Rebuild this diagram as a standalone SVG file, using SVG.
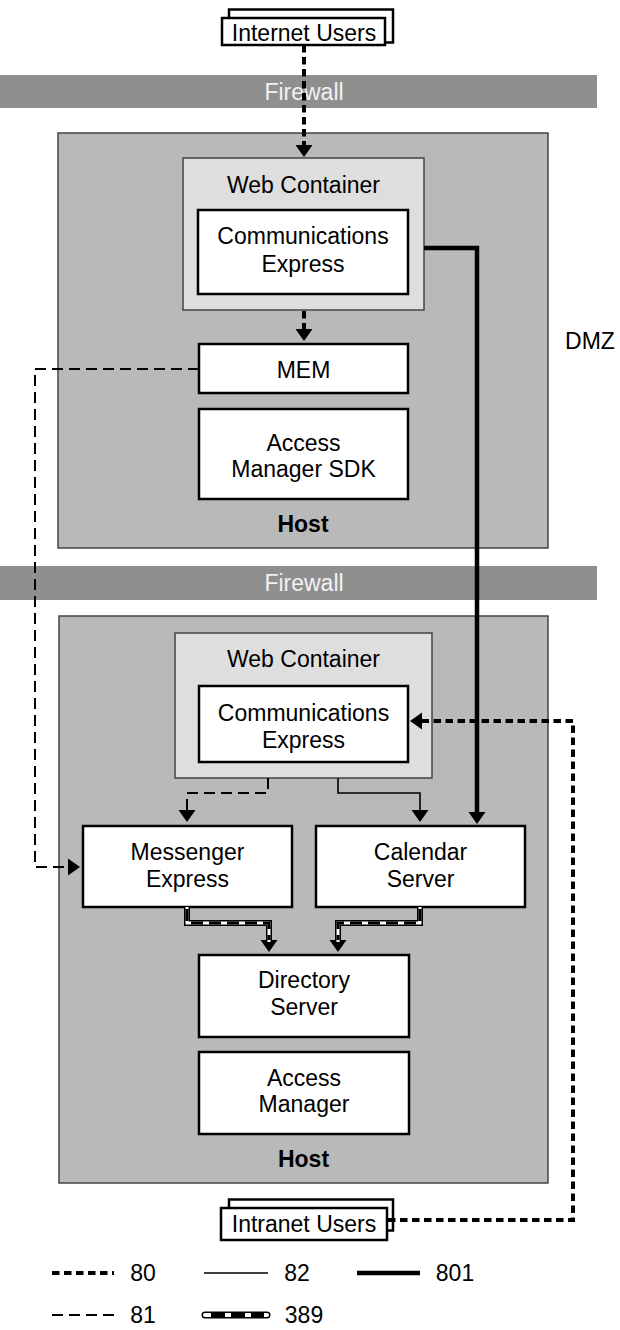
<svg xmlns="http://www.w3.org/2000/svg" width="620" height="1330" viewBox="0 0 620 1330">
<defs>
<style>
text{font-family:"Liberation Sans",Arial,sans-serif;font-size:23px;fill:#000;text-anchor:middle}
.host{fill:#b9b9b9;stroke:#444;stroke-width:1.5}
.wc{fill:#dedede;stroke:#444;stroke-width:1.5}
.box{fill:#fff;stroke:#000;stroke-width:2.5}
.fw{fill:#8f8f8f}
.fwt{fill:#f2f2f2}
.bold{font-weight:bold}
.l80{fill:none;stroke:#000;stroke-width:4;stroke-dasharray:7.5 4.5}
.l81{fill:none;stroke:#000;stroke-width:2;stroke-dasharray:11 6}
.l82{fill:none;stroke:#000;stroke-width:1.6}
.l801{fill:none;stroke:#000;stroke-width:4.5}
.l389a{fill:none;stroke:#000;stroke-width:6}
.l389b{fill:none;stroke:#fff;stroke-width:3}
.l389c{fill:none;stroke:#000;stroke-width:3;stroke-dasharray:12 6}
</style>
<marker id="ah" markerUnits="userSpaceOnUse" markerWidth="14" markerHeight="18" refX="0" refY="8.5" orient="auto" overflow="visible">
<path d="M0,0 L12,8.5 L0,17 Z" fill="#000"/>
</marker>
</defs>
<rect width="620" height="1330" fill="#fff"/>

<g id="firewall1">
<rect class="fw" x="0" y="75" width="597" height="33"/>
<text class="fwt" x="304" y="100">Firewall</text>
</g>
<g id="firewall2">
<rect class="fw" x="0" y="566" width="597" height="34"/>
<text class="fwt" x="304" y="591">Firewall</text>
</g>

<g id="host1">
<rect class="host" x="58" y="133" width="490" height="415"/>
<text class="bold" x="303" y="532">Host</text>
</g>
<g id="webcontainer1">
<rect class="wc" x="183" y="158" width="241" height="152"/>
<text x="303.5" y="193">Web Container</text>
</g>
<g id="commexpress1">
<rect class="box" x="198" y="210" width="210" height="84"/>
<text x="303" y="244">Communications</text>
<text x="303" y="272">Express</text>
</g>
<g id="mem">
<rect class="box" x="199" y="344" width="209" height="49"/>
<text x="303.5" y="378">MEM</text>
</g>
<g id="amsdk">
<rect class="box" x="199" y="409" width="209" height="90"/>
<text x="303.5" y="451">Access</text>
<text x="303.5" y="477">Manager SDK</text>
</g>
<g id="dmz">
<text x="590" y="349">DMZ</text>
</g>

<g id="host2">
<rect class="host" x="59" y="616" width="489" height="567"/>
<text class="bold" x="303.5" y="1167">Host</text>
</g>
<g id="webcontainer2">
<rect class="wc" x="175" y="633" width="257" height="145"/>
<text x="303.5" y="667">Web Container</text>
</g>
<g id="commexpress2">
<rect class="box" x="199" y="686" width="209" height="76"/>
<text x="303.5" y="721">Communications</text>
<text x="303.5" y="748">Express</text>
</g>
<g id="messenger">
<rect class="box" x="83" y="826" width="209" height="81"/>
<text x="187.5" y="860">Messenger</text>
<text x="187.5" y="887">Express</text>
</g>
<g id="calendar">
<rect class="box" x="316" y="826" width="209" height="81"/>
<text x="420.5" y="860">Calendar</text>
<text x="420.5" y="887">Server</text>
</g>
<g id="directory">
<rect class="box" x="199" y="955" width="210" height="82"/>
<text x="304" y="988">Directory</text>
<text x="304" y="1015">Server</text>
</g>
<g id="accessmanager">
<rect class="box" x="199" y="1052" width="210" height="82"/>
<text x="304" y="1086">Access</text>
<text x="304" y="1112">Manager</text>
</g>

<g id="internetusers">
<rect class="box" x="229" y="9.5" width="164" height="33" stroke-width="2"/>
<rect class="box" x="222" y="18" width="163" height="27" stroke-width="2"/>
<text x="304" y="41">Internet Users</text>
</g>
<g id="intranetusers">
<rect class="box" x="229" y="1199.5" width="164" height="31" stroke-width="2"/>
<rect class="box" x="221" y="1208" width="166" height="32" stroke-width="2"/>
<text x="304" y="1232">Intranet Users</text>
</g>

<g id="connectors">
<path class="l80" d="M304,45 V145" marker-end="url(#ah)"/>
<path class="l80" d="M304,311 V329" marker-end="url(#ah)"/>
<path class="l801" d="M424,248 H477 V812" marker-end="url(#ah)"/>
<path class="l81" d="M199,369 H35 V867 H68" marker-end="url(#ah)"/>
<path class="l81" d="M268,778 V793 H187 V810" marker-end="url(#ah)"/>
<path class="l82" d="M338,778 V793 H420 V810" marker-end="url(#ah)"/>
<path class="l80" d="M388,1220 H573 V721 H422" marker-end="url(#ah)"/>
<path class="l389a" d="M187,907 V923 H269 V940" marker-end="url(#ah)"/>
<path class="l389b" d="M187,907 V923 H269 V942"/>
<path class="l389c" d="M187,907 V923 H269 V940" stroke-dashoffset="-2"/>
<path class="l389a" d="M420,907 V923 H338 V940" marker-end="url(#ah)"/>
<path class="l389b" d="M420,907 V923 H338 V942"/>
<path class="l389c" d="M420,907 V923 H338 V940" stroke-dashoffset="-2"/>
</g>

<g id="legend">
<path class="l80" d="M52,1273 H114"/>
<text x="143" y="1281">80</text>
<path class="l82" d="M204,1273 H268"/>
<text x="297" y="1281">82</text>
<path class="l801" d="M357,1273 H420" stroke-width="5"/>
<text x="455" y="1281">801</text>
<path class="l81" d="M52,1315 H114"/>
<text x="143" y="1323">81</text>
<path d="M205,1315 H267" fill="none" stroke="#000" stroke-width="7" stroke-linecap="round"/>
<path d="M205,1315 H267" fill="none" stroke="#fff" stroke-width="4" stroke-linecap="round"/>
<path d="M211,1315 H264" fill="none" stroke="#000" stroke-width="4" stroke-dasharray="14 6"/>
<text x="304" y="1323">389</text>
</g>
</svg>
